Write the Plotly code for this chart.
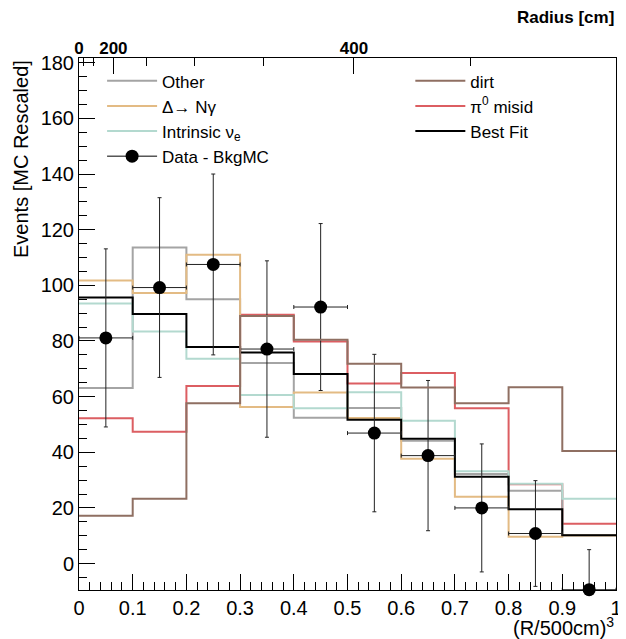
import plotly.graph_objects as go

# ---------------- data ----------------
bin_edges = [0.0, 0.1, 0.2, 0.3, 0.4, 0.5, 0.6, 0.7, 0.8, 0.9, 1.0]
bin_centers = [0.05, 0.15, 0.25, 0.35, 0.45, 0.55, 0.65, 0.75, 0.85, 0.95]
bin_half_width = [0.05] * 10

other = [63.1, 113.6, 95.0, 72.1, 52.4, 55.9, 44.1, 32.2, 26.2, 10.3]
delta_ngamma = [101.7, 97.2, 111.0, 56.3, 61.5, 52.3, 37.7, 24.0, 9.6, 10.1]
intrinsic_nue = [93.5, 83.4, 73.6, 60.6, 55.8, 61.6, 51.3, 33.2, 28.7, 23.3]
dirt = [17.2, 23.3, 57.6, 89.0, 80.4, 71.8, 63.3, 57.6, 63.4, 40.5]
pi0_misid = [52.2, 47.4, 63.8, 89.4, 79.8, 64.7, 68.5, 55.8, 28.5, 14.3]
best_fit = [95.6, 89.7, 77.8, 75.9, 68.1, 51.7, 44.9, 31.2, 19.5, 10.2]

data_minus_bkg = [81.1, 99.2, 107.5, 77.1, 92.2, 46.9, 38.8, 20.0, 10.8, -9.4]
data_err = [32.0, 32.3, 32.5, 31.7, 30.0, 28.3, 27.0, 23.0, 19.0, 14.4]

radius_major = [0, 200, 400]
radius_minor = [50, 100, 150, 250, 300, 350, 450]
radius_scale = 500.0

FONT = "Liberation Sans"

fig = go.Figure()


def step_trace(vals, name, color, width, legend, xaxis="x"):
    return go.Scatter(
        x=bin_edges,
        y=list(vals) + [vals[-1]],
        mode="lines",
        line=dict(shape="hv", color=color, width=width),
        name=name,
        legend=legend,
        xaxis=xaxis,
        hoverinfo="skip",
    )


# drawing order
fig.add_trace(step_trace(dirt, "dirt", "#8f6f62", 2, "legend2", xaxis="x2"))
fig.add_trace(step_trace(pi0_misid, "π<sup>0</sup> misid", "#dc5e62", 2, "legend2"))
fig.add_trace(step_trace(other, "Other", "#a4a4a4", 2, "legend"))
fig.add_trace(step_trace(delta_ngamma, "Δ→ Nγ", "#e3bb84", 2, "legend"))
fig.add_trace(step_trace(intrinsic_nue, "Intrinsic ν<sub>e</sub>", "#b3d9cf", 2, "legend"))
fig.add_trace(step_trace(best_fit, "Best Fit", "#000000", 2, "legend2"))

# data points
fig.add_trace(go.Scatter(
    x=bin_centers,
    y=data_minus_bkg,
    mode="markers",
    marker=dict(color="black", size=13),
    error_y=dict(type="data", array=data_err, color="#222222", thickness=1, width=2),
    error_x=dict(type="data", array=bin_half_width, color="#222222", thickness=1, width=2),
    showlegend=False,
    cliponaxis=False,
    hoverinfo="skip",
))
# legend entry for the data (line through marker, like the reference)
fig.add_trace(go.Scatter(
    x=[None], y=[None],
    mode="lines+markers",
    marker=dict(color="black", size=13),
    line=dict(color="black", width=1),
    name="Data - BkgMC",
    legend="legend",
))

legend_rank = {"Other": 1, "Δ→ Nγ": 2, "Intrinsic ν<sub>e</sub>": 3, "Data - BkgMC": 4,
               "dirt": 1, "π<sup>0</sup> misid": 2, "Best Fit": 3}
for tr in fig.data:
    if tr.name in legend_rank:
        tr.legendrank = legend_rank[tr.name]

top_tickvals = [(r / radius_scale) ** 3 for r in radius_major]
top_ticktext = [str(r) for r in radius_major]
top_minorvals = [(r / radius_scale) ** 3 for r in radius_minor]

legend_common = dict(
    font=dict(family=FONT, size=17, color="black"),
    bgcolor="rgba(0,0,0,0)",
    borderwidth=0,
    itemwidth=50,
    tracegroupgap=0,
    yanchor="top",
    xanchor="left",
)

# page body has an 8px margin, so the figure is 8px smaller than the window
fig.update_layout(
    width=618,
    height=631,
    margin=dict(l=71, r=4, t=50, b=49),
    paper_bgcolor="white",
    plot_bgcolor="white",
    font=dict(family=FONT, size=20, color="black"),
    xaxis=dict(
        range=[0, 1],
        dtick=0.1,
        tick0=0,
        ticks="inside",
        ticklen=16,
        tickwidth=1,
        tickcolor="black",
        minor=dict(dtick=0.02, tick0=0, ticks="inside", ticklen=8, tickwidth=1, tickcolor="black"),
        showline=True,
        linecolor="black",
        linewidth=1,
        mirror=True,
        showgrid=False,
        zeroline=False,
        ticklabeloverflow="allow",
        tickfont=dict(family=FONT, size=20, color="black"),
    ),
    xaxis2=dict(
        range=[0, 1],
        overlaying="x",
        side="top",
        tickmode="array",
        tickvals=top_tickvals,
        ticktext=top_ticktext,
        ticks="inside",
        ticklen=16,
        tickwidth=1,
        tickcolor="black",
        minor=dict(tickmode="array", tickvals=top_minorvals, ticks="inside", ticklen=8,
                   tickwidth=1, tickcolor="black"),
        showline=False,
        showgrid=False,
        zeroline=False,
        tickfont=dict(family=FONT, size=17, color="black", weight="bold"),
    ),
    yaxis=dict(
        range=[-9.5, 181.7],
        dtick=20,
        tick0=0,
        ticks="inside",
        ticklen=16,
        tickwidth=1,
        tickcolor="black",
        minor=dict(dtick=5, tick0=0, ticks="inside", ticklen=8, tickwidth=1, tickcolor="black"),
        showline=True,
        linecolor="black",
        linewidth=1,
        mirror=True,
        showgrid=False,
        zeroline=False,
        tickfont=dict(family=FONT, size=20, color="black"),
    ),
    legend=dict(x=0.043, y=0.99, **legend_common),
    legend2=dict(x=0.617, y=0.99, **legend_common),
    annotations=[
        dict(text="Events [MC Rescaled]", xref="paper", yref="paper", x=-0.108, y=1.0,
             xanchor="center", yanchor="top", textangle=-90, showarrow=False,
             font=dict(family=FONT, size=20, color="black")),
        dict(text="(R/500cm)<sup>3</sup>", xref="paper", yref="paper", x=1.0, y=-0.068,
             xanchor="right", yanchor="middle", showarrow=False,
             font=dict(family=FONT, size=20, color="black")),
        dict(text="Radius [cm]", xref="paper", yref="paper", x=1.0, y=1.077,
             xanchor="right", yanchor="middle", showarrow=False,
             font=dict(family=FONT, size=17, color="black", weight="bold")),
    ],
)

fig.write_html("out.html")
